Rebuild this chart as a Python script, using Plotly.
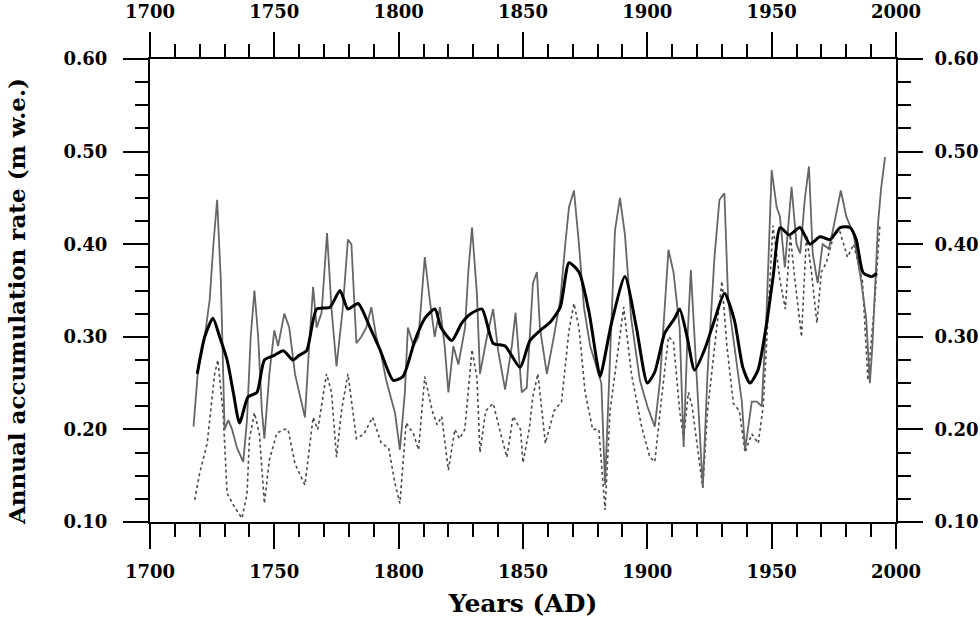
import plotly.graph_objects as go

# ---- data ----
gray_years = [1717.5, 1719.3, 1722, 1724, 1725.5, 1727, 1728.5, 1730, 1731.5, 1733, 1735, 1737.5, 1739, 1740.5,
              1742, 1743.5, 1745, 1746, 1748, 1750, 1751.5, 1754, 1756, 1758.3, 1760, 1762.3, 1764, 1765.6,
              1767, 1769, 1771.2, 1773, 1775, 1777.5, 1779.6, 1781, 1783, 1785, 1787, 1789, 1791, 1793, 1795,
              1798.5, 1800.5, 1802.5, 1803.7, 1806, 1808, 1810.5, 1812.5, 1814.5, 1816.6, 1818.5, 1820, 1822,
              1824, 1826.7, 1828, 1829.5, 1831.5, 1832.7, 1835.5, 1838, 1840, 1842.8, 1845.5, 1847, 1849.5,
              1851.5, 1854, 1855.6, 1856.8, 1859.6, 1862.4, 1865, 1867, 1868.5, 1870.5, 1872.5, 1874.5, 1877,
              1879.6, 1881.5, 1883, 1885, 1887, 1889, 1891, 1893.5, 1897, 1900, 1903, 1905, 1907, 1908.5,
              1910.5, 1913, 1914.6, 1916, 1917.5, 1919, 1921, 1922.3, 1924.2, 1927, 1929, 1931, 1932.5, 1935,
              1938, 1939.3, 1942, 1944, 1946, 1948, 1950, 1952, 1953.3, 1955.3, 1958, 1960, 1961.5, 1963.3,
              1965, 1966.5, 1968.5, 1970.5, 1973, 1975, 1977.8, 1980, 1983, 1986, 1988, 1989.5, 1990.5,
              1992.8, 1994, 1995.6]
gray_vals = [0.203, 0.264, 0.30, 0.34, 0.40, 0.448, 0.36, 0.20, 0.21, 0.20, 0.18, 0.165, 0.21, 0.30,
             0.35, 0.30, 0.22, 0.19, 0.26, 0.307, 0.29, 0.325, 0.31, 0.26, 0.24, 0.213, 0.29, 0.354,
             0.31, 0.326, 0.412, 0.33, 0.268, 0.33, 0.405, 0.40, 0.293, 0.30, 0.31, 0.332, 0.30, 0.28, 0.253,
             0.218, 0.178, 0.24, 0.31, 0.29, 0.30, 0.386, 0.34, 0.30, 0.332, 0.29, 0.24, 0.29,
             0.27, 0.31, 0.37, 0.418, 0.345, 0.26, 0.30, 0.33, 0.285, 0.243, 0.29, 0.326, 0.24,
             0.245, 0.358, 0.37, 0.31, 0.26, 0.30, 0.34, 0.40, 0.44, 0.458, 0.40, 0.332, 0.29,
             0.267, 0.25, 0.14, 0.28, 0.415, 0.45, 0.41, 0.32, 0.253, 0.225, 0.203, 0.25, 0.33, 0.394,
             0.37, 0.31, 0.181, 0.29, 0.372, 0.30, 0.19, 0.137, 0.26, 0.386, 0.448, 0.455, 0.34, 0.29,
             0.23, 0.178, 0.23, 0.23, 0.225, 0.33, 0.48, 0.44, 0.43, 0.375, 0.462, 0.40, 0.39, 0.448,
             0.484, 0.39, 0.358, 0.40, 0.395, 0.42, 0.458, 0.43, 0.41, 0.36, 0.32, 0.25, 0.29,
             0.423, 0.46, 0.494]

smooth_years = [1719, 1722, 1725.3, 1728, 1731, 1733.5, 1736, 1739.4, 1743, 1746, 1750, 1753.6, 1757.5, 1760,
                1763, 1767, 1772.4, 1776.4, 1779.6, 1783.7, 1788.5, 1792.5, 1797.8, 1801.7, 1806.5, 1810.5,
                1814.6, 1817, 1821.4, 1825.4, 1829, 1833.5, 1838, 1842.8, 1848.8, 1852.8, 1857, 1861, 1865,
                1868.5, 1872.5, 1876.6, 1879.6, 1881, 1885.6, 1891, 1895.6, 1900, 1903, 1907, 1911, 1913,
                1916, 1919, 1923, 1927, 1931, 1935, 1938.4, 1941.3, 1944.5, 1948, 1950.6, 1953.4, 1957,
                1961.4, 1965.4, 1969.4, 1973.5, 1977.5, 1981.5, 1984, 1986.8, 1990.3, 1992.3]
smooth_vals = [0.26, 0.30, 0.32, 0.30, 0.275, 0.24, 0.207, 0.235, 0.24, 0.275, 0.28, 0.285, 0.275, 0.28,
               0.285, 0.33, 0.332, 0.35, 0.33, 0.336, 0.31, 0.286, 0.253, 0.257, 0.296, 0.32,
               0.33, 0.31, 0.296, 0.315, 0.325, 0.33, 0.293, 0.29, 0.267, 0.296, 0.307, 0.316, 0.332,
               0.38, 0.37, 0.326, 0.275, 0.257, 0.315, 0.365, 0.31, 0.25, 0.262, 0.304, 0.32, 0.33,
               0.30, 0.264, 0.286, 0.318, 0.347, 0.318, 0.267, 0.25, 0.264, 0.315, 0.365, 0.418, 0.41,
               0.418, 0.40, 0.408, 0.405, 0.418, 0.418, 0.405, 0.369, 0.365, 0.369]

dot_years = [1718, 1720, 1723, 1726, 1727.3, 1729.4, 1731, 1734, 1737, 1739, 1740, 1742, 1744, 1746, 1748,
             1751, 1754, 1755.5, 1758.3, 1762.3, 1765.6, 1767.5, 1771, 1773, 1775, 1777, 1779.6, 1783, 1786,
             1789.5, 1793, 1796, 1798.5, 1800.5, 1803, 1806, 1808, 1810.5, 1813.5, 1815.5, 1817.3, 1820,
             1822.6, 1824.5, 1826.6, 1829.5, 1831.5, 1832.7, 1835, 1838, 1840.6, 1843.5, 1846, 1849, 1850,
             1852.5, 1854, 1856, 1859, 1862.5, 1865.5, 1868.5, 1870.5, 1872.5, 1875, 1878, 1880.5, 1883,
             1885, 1889, 1890.5, 1893.6, 1897.7, 1901, 1903, 1906, 1908.5, 1910.5, 1913, 1914.6, 1916.5,
             1918, 1921, 1922.3, 1924.2, 1927.5, 1930, 1932, 1934.6, 1937, 1939.3, 1942, 1944.6, 1946.6,
             1948.5, 1950.5, 1953.4, 1955.5, 1957.5, 1959, 1962, 1964, 1966, 1968.2, 1970, 1972, 1975,
             1977.3, 1980.5, 1983, 1986.5, 1988.7, 1991.5, 1993.5]
dot_vals = [0.124, 0.153, 0.185, 0.26, 0.275, 0.218, 0.131, 0.116, 0.104, 0.13, 0.19, 0.218, 0.195, 0.12, 0.167,
            0.196, 0.20, 0.20, 0.163, 0.14, 0.213, 0.20, 0.26, 0.24, 0.17, 0.22, 0.26, 0.19, 0.195,
            0.213, 0.185, 0.18, 0.142, 0.12, 0.207, 0.195, 0.178, 0.257, 0.22, 0.205, 0.214, 0.156,
            0.20, 0.19, 0.20, 0.286, 0.255, 0.175, 0.22, 0.228, 0.20, 0.17, 0.214, 0.20, 0.164,
            0.20, 0.236, 0.26, 0.185, 0.22, 0.23, 0.307, 0.336, 0.31, 0.24, 0.20, 0.20, 0.113,
            0.22, 0.304, 0.332, 0.26, 0.203, 0.17, 0.165, 0.24, 0.30, 0.295, 0.22, 0.19, 0.24,
            0.225, 0.164, 0.137, 0.22, 0.30, 0.36, 0.29, 0.228, 0.22, 0.175, 0.195, 0.185, 0.225,
            0.315, 0.42, 0.36, 0.33, 0.41, 0.37, 0.30, 0.41, 0.37, 0.315, 0.37, 0.38, 0.41,
            0.415, 0.386, 0.40, 0.36, 0.253, 0.34, 0.42]

x_range = [1700, 2000]
y_range = [0.10, 0.60]
x_title = "Years (AD)"
y_title = "Annual accumulation rate (m w.e.)"

FONT = "DejaVu Serif"

fig = go.Figure()
fig.add_trace(go.Scatter(x=dot_years, y=dot_vals, mode="lines",
                         line=dict(color="#4a4a4a", width=1.6, dash="dot"),
                         showlegend=False, hoverinfo="skip"))
fig.add_trace(go.Scatter(x=gray_years, y=gray_vals, mode="lines",
                         line=dict(color="#666666", width=1.8),
                         showlegend=False, hoverinfo="skip"))
fig.add_trace(go.Scatter(x=smooth_years, y=smooth_vals, mode="lines",
                         line=dict(color="#000000", width=3, shape="spline", smoothing=0.6),
                         showlegend=False, hoverinfo="skip"))
# invisible helpers so top and right axes are drawn
fig.add_trace(go.Scatter(x=[x_range[0]], y=[y_range[0]], xaxis="x2", yaxis="y", mode="markers",
                         marker=dict(opacity=0), showlegend=False, hoverinfo="skip"))
fig.add_trace(go.Scatter(x=[x_range[0]], y=[y_range[0]], xaxis="x", yaxis="y2", mode="markers",
                         marker=dict(opacity=0), showlegend=False, hoverinfo="skip"))

tickfont = dict(family=FONT, size=18, color="black", weight="bold")
common_x = dict(range=x_range, tick0=1700, dtick=50, ticks="outside", ticklen=25, tickwidth=2,
                tickcolor="black", showline=True, linewidth=2, linecolor="black", automargin=False,
                showgrid=False, zeroline=False, tickfont=tickfont, ticklabelstandoff=7,
                minor=dict(dtick=10, ticks="outside", ticklen=13, tickwidth=2, tickcolor="black",
                           showgrid=False))
common_y = dict(range=y_range, tick0=0.1, dtick=0.1, tickformat=".2f", ticks="outside", ticklen=25,
                tickwidth=2, tickcolor="black", showline=True, linewidth=2, linecolor="black",
                automargin=False,
                showgrid=False, zeroline=False, tickfont=tickfont,
                minor=dict(dtick=0.025, ticks="outside", ticklen=13, tickwidth=2, tickcolor="black",
                           showgrid=False))

fig.update_layout(
    width=980, height=620,
    margin=dict(l=150, r=84, t=59, b=98),
    paper_bgcolor="white", plot_bgcolor="white",
    xaxis=dict(**common_x, side="bottom",
               title=dict(text=x_title, standoff=14,
                          font=dict(family=FONT, size=25, color="black", weight="bold"))),
    xaxis2=dict(**common_x, side="top", overlaying="x", anchor="y"),
    yaxis=dict(**common_y, side="left", ticklabelstandoff=12),
    yaxis2=dict(**common_y, side="right", overlaying="y", anchor="x", ticklabelstandoff=8),
    annotations=[dict(text=y_title, textangle=-90, xref="paper", yref="paper",
                      x=0, y=0.475, xanchor="center", yanchor="middle", xshift=-134,
                      showarrow=False,
                      font=dict(family=FONT, size=23, color="black", weight="bold"))],
)

# remove the default page margin so the figure sits at the window's corner
fig.write_html("out.html", config={"displayModeBar": False},
               post_script="document.body.style.margin='0';")
